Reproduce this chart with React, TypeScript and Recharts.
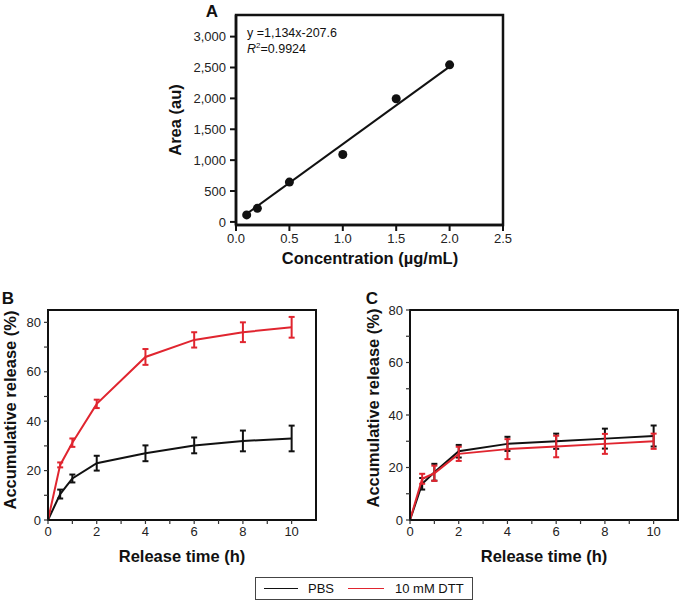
import { ComposedChart, LineChart, Line, Scatter, XAxis, YAxis, ErrorBar, ReferenceArea } from 'recharts';

const FONT = '"Liberation Sans", Arial, Helvetica, sans-serif';
const RED = '#e0252f';
const INK = '#111';

// Panel A: calibration curve
const concentration = [0.1, 0.2, 0.5, 1.0, 1.5, 2.0];
const area = [113, 220, 645, 1092, 1995, 2543];
const fitConcentration = [0.1, 2.0];
const fitArea = [130, 2515];
const areaTicks = [0, 500, 1000, 1500, 2000, 2500, 3000];
const concTicks = [0, 0.5, 1, 1.5, 2, 2.5];

// Panels B and C: release profiles
const time = [0, 0.5, 1, 2, 4, 6, 8, 10];
const pbsB = [0, 10.5, 16.8, 23, 27, 30.2, 32, 33];
const pbsBErr = [0, 1.8, 1.6, 3, 3.2, 3.2, 4.2, 5.2];
const dttB = [0, 22.3, 31.3, 47, 66, 72.9, 76, 78];
const dttBErr = [0, 1, 1.7, 1.7, 3.2, 3.1, 4, 4.2];
const pbsC = [0, 13.8, 18.2, 26.2, 29, 30, 31, 32];
const pbsCErr = [0, 2.2, 3.2, 2.4, 2.7, 2.9, 3.8, 4];
const dttC = [0, 15.7, 17.8, 25.2, 27, 28, 29, 30];
const dttCErr = [0, 1.9, 2.9, 2.7, 3.8, 4.1, 3.8, 2.9];
const timeTicks = [0, 1, 2, 3, 4, 5, 6, 7, 8, 9, 10];
const releaseTicks = [0, 10, 20, 30, 40, 50, 60, 70, 80];

const tickStyle = { fill: '#222', fontSize: 13, fontFamily: FONT };

function Txt({ x, y, size = 16.5, bold = true, rotate = false, children }: any) {
  return (
    <div
      style={{
        position: 'absolute',
        left: x,
        top: y,
        transform: `translate(-50%, -50%)${rotate ? ' rotate(-90deg)' : ''}`,
        whiteSpace: 'nowrap',
        fontFamily: FONT,
        fontSize: size,
        fontWeight: bold ? 'bold' : 'normal',
        color: INK,
        lineHeight: 1,
      }}
    >
      {children}
    </div>
  );
}

function CalibrationChart() {
  const points = concentration.map((x, i) => ({ x, y: area[i] }));
  const fit = fitConcentration.map((x, i) => ({ x, y: fitArea[i] }));
  return (
    <ComposedChart width={370} height={262} margin={{ top: 15, right: 17, left: 0, bottom: 0 }}>
      <ReferenceArea x1={0} x2={2.5} y1={-50} y2={3350} fill="none" stroke={INK} strokeWidth={2.5} />
      <XAxis
        type="number"
        dataKey="x"
        domain={[0, 2.5]}
        ticks={concTicks}
        interval={0}
        height={37}
        tick={tickStyle}
        tickSize={6}
        tickMargin={3}
        tickLine={{ stroke: INK, strokeWidth: 2 }}
        axisLine={{ stroke: INK, strokeWidth: 2.5 }}
        tickFormatter={(v: number) => v.toFixed(1)}
      />
      <YAxis
        type="number"
        dataKey="y"
        domain={[-50, 3350]}
        ticks={areaTicks}
        interval={0}
        width={86}
        tick={tickStyle}
        tickSize={6}
        tickMargin={4}
        tickLine={{ stroke: INK, strokeWidth: 2 }}
        axisLine={{ stroke: INK, strokeWidth: 2.5 }}
        tickFormatter={(v: number) => v.toLocaleString('en-US')}
      />
      <Line data={fit} dataKey="y" stroke={INK} strokeWidth={2} dot={false} isAnimationActive={false} />
      <Scatter data={points} dataKey="y" fill={INK} shape="circle" isAnimationActive={false}
        // @ts-ignore
        size={55}
      />
    </ComposedChart>
  );
}

function ReleaseChart({ pbs, pbsErr, dtt, dttErr, yMax, width, height, yWidth, right }: any) {
  const data = time.map((t, i) => ({ t, pbs: pbs[i], pbsErr: pbsErr[i], dtt: dtt[i], dttErr: dttErr[i] }));
  return (
    <LineChart width={width} height={height} data={data} margin={{ top: 20, right, left: 0, bottom: 0 }}>
      <ReferenceArea x1={0} x2={11} y1={0} y2={yMax} fill="none" stroke={INK} strokeWidth={2} />
      <XAxis
        type="number"
        dataKey="t"
        domain={[0, 11]}
        ticks={timeTicks}
        interval={0}
        height={height - 20 - 210}
        tick={tickStyle}
        tickSize={4}
        tickMargin={3}
        tickLine={{ stroke: '#333', strokeWidth: 1.2 }}
        axisLine={{ stroke: INK, strokeWidth: 2 }}
        tickFormatter={(v: number) => (v % 2 === 0 ? String(v) : '')}
      />
      <YAxis
        type="number"
        domain={[0, yMax]}
        ticks={releaseTicks}
        interval={0}
        width={yWidth}
        tick={tickStyle}
        tickSize={4}
        tickMargin={3}
        tickLine={{ stroke: '#333', strokeWidth: 1.2 }}
        axisLine={{ stroke: INK, strokeWidth: 2 }}
        tickFormatter={(v: number) => (v % 20 === 0 ? String(v) : '')}
      />
      <Line dataKey="pbs" stroke={INK} strokeWidth={2} dot={false} isAnimationActive={false}>
        <ErrorBar dataKey="pbsErr" width={3} strokeWidth={2} stroke={INK} direction="y" />
      </Line>
      <Line dataKey="dtt" stroke={RED} strokeWidth={2} dot={false} isAnimationActive={false}>
        <ErrorBar dataKey="dttErr" width={3} strokeWidth={2} stroke={RED} direction="y" />
      </Line>
    </LineChart>
  );
}

export default function App() {
  return (
    <div style={{ position: 'absolute', left: 0, top: 0, width: 680, height: 601, background: '#fff', overflow: 'hidden' }}>
      <div style={{ position: 'absolute', left: 150, top: 0 }}>
        <CalibrationChart />
      </div>
      <div style={{ position: 'absolute', left: 0, top: 290 }}>
        <ReleaseChart pbs={pbsB} pbsErr={pbsBErr} dtt={dttB} dttErr={dttBErr} yMax={85}
          width={330} height={260} yWidth={48} right={14} />
      </div>
      <div style={{ position: 'absolute', left: 360, top: 290 }}>
        <ReleaseChart pbs={pbsC} pbsErr={pbsCErr} dtt={dttC} dttErr={dttCErr} yMax={80}
          width={320} height={261} yWidth={50} right={2} />
      </div>

      <Txt x={212} y={11} size={17}>A</Txt>
      <Txt x={8} y={298} size={17}>B</Txt>
      <Txt x={372} y={298} size={17}>C</Txt>

      <Txt x={175} y={120} rotate>Area (au)</Txt>
      <Txt x={370} y={258}>Concentration (µg/mL)</Txt>
      <Txt x={10} y={410} rotate>Accumulative release (%)</Txt>
      <Txt x={182} y={556}>Release time (h)</Txt>
      <Txt x={373} y={408} rotate>Accumulative release (%)</Txt>
      <Txt x={544} y={556}>Release time (h)</Txt>

      <div style={{ position: 'absolute', left: 247, top: 25, fontFamily: FONT, fontSize: 12.5, color: INK, lineHeight: '16px' }}>
        <div>y =1,134x-207.6</div>
        <div><i>R</i><sup style={{ fontSize: 8, verticalAlign: 'top', lineHeight: '10px' }}>2</sup>=0.9924</div>
      </div>

      <div style={{ position: 'absolute', left: 255, top: 577, width: 218, height: 23, border: '1px solid #444', boxSizing: 'border-box', fontFamily: FONT, fontSize: 13, color: INK }}>
        <div style={{ position: 'absolute', left: 8, top: 10, width: 34, height: 0, borderTop: '1px solid #111' }} />
        <div style={{ position: 'absolute', left: 52, top: 3, lineHeight: '15px' }}>PBS</div>
        <div style={{ position: 'absolute', left: 92, top: 10, width: 36, height: 0, borderTop: `1px solid ${RED}` }} />
        <div style={{ position: 'absolute', left: 139, top: 3, lineHeight: '15px' }}>10 mM DTT</div>
      </div>
    </div>
  );
}
